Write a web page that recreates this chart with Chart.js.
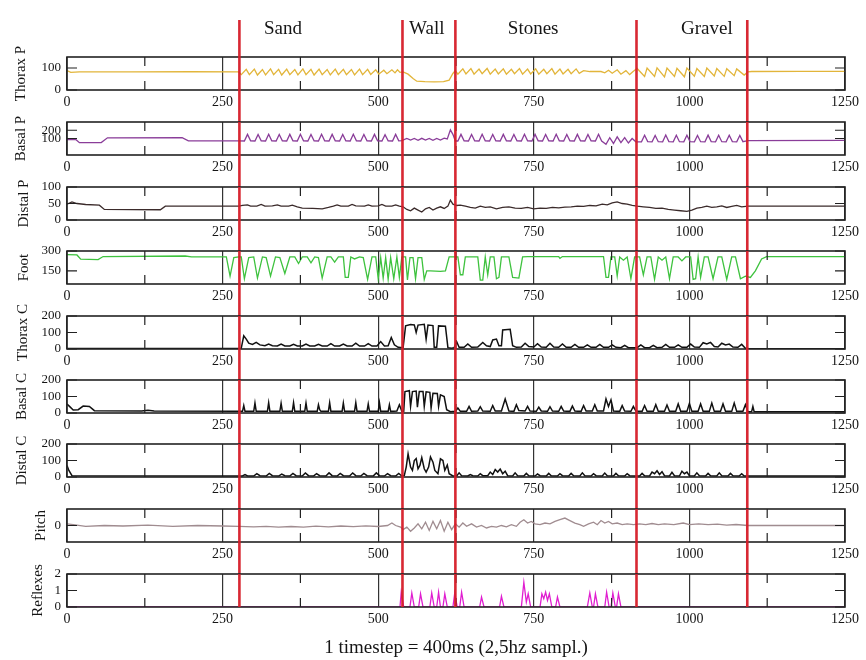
<!DOCTYPE html>
<html><head><meta charset="utf-8">
<script src="https://cdn.jsdelivr.net/npm/chart.js"></script>
<style>html,body{margin:0;padding:0;background:#fff;width:866px;height:660px;overflow:hidden;position:relative}</style>
</head><body>
<script>
// ---------- data (timestep, value) ----------
const xTicks = [0,250,500,750,1000,1250];
const minorX = [125,375,625,875,1125];
const regionNames = ['Sand','Wall','Stones','Gravel'];
const regionCenters = [347,578,749,1028];
const regionBounds = [277,539,624,915,1093];

const thoraxPTicks = [0,100];
const basalPTicks = [100,200];
const distalPTicks = [0,50,100];
const footTicks = [150,300];
const thoraxCTicks = [0,100,200];
const basalCTicks = [0,100,200];
const distalCTicks = [0,100,200];
const pitchTicks = [0];
const reflexTicks = [0,1,2];

const thoraxP = [[0,88],[6,80],[20,82],[100,82],[200,83],[276,82],
[280,70],[288,94],[293,70],[301,95],[306,68],[314,93],[319,69],[327,96],[332,70],[340,94],[345,68],[353,95],[358,70],[366,93],[371,69],[379,96],[384,70],[392,94],[397,68],[405,95],[410,70],[418,93],[423,69],[431,95],[436,70],[444,94],[449,70],[457,93],[462,69],[470,95],[475,70],[483,94],[488,71],[496,92],[501,72],[509,90],[514,74],[522,92],[527,78],[531,92],[535,80],[540,82],
[548,72],[556,52],[562,40],[575,38],[590,37],[605,38],[614,45],[620,75],[624,88],
[628,72],[636,96],[641,73],[649,97],[654,72],[662,95],[667,74],[675,98],[680,72],[688,95],[693,73],[701,96],[706,72],[714,94],[719,74],[727,97],[732,72],[740,95],[745,73],[753,96],[758,72],[766,94],[771,74],[779,97],[784,72],[792,95],[797,73],[805,94],[810,74],[818,96],[823,76],[830,88],[840,84],[858,84],[864,78],[870,90],[876,76],[884,92],[890,72],[898,88],[904,70],[910,85],
[916,98],[928,62],[932,100],[944,62],[948,101],[960,60],[964,100],[976,62],[980,99],[992,60],[996,100],[1008,63],[1012,98],[1024,62],[1028,100],[1040,64],[1044,98],[1056,62],[1060,97],[1072,65],[1076,96],[1088,68],[1094,82],
[1100,84],[1180,85],[1250,85]];

const basalP = [[0,88],[14,88],[20,50],[55,50],[65,108],[185,110],[195,72],[276,70],
[285,70],[290,150],[295,72],[302,70],[307,148],[312,72],[319,70],[324,152],[329,71],[336,70],[341,149],[346,72],[353,70],[358,150],[363,71],[370,70],[375,151],[380,72],[387,70],[392,148],[397,71],[404,70],[409,152],[414,72],[421,70],[426,150],[431,71],[438,70],[443,149],[448,72],[455,70],[460,151],[465,71],[472,70],[477,148],[482,72],[489,70],[494,150],[499,71],[506,70],[511,145],[516,72],[523,70],[528,150],[533,72],[538,74],
[546,100],[552,80],[558,100],[564,78],[570,102],[576,80],[582,100],[588,78],[594,100],[600,80],[606,105],[611,95],[616,205],[620,150],[624,70],
[628,70],[633,150],[638,72],[645,70],[650,148],[655,71],[662,70],[667,152],[672,72],[679,70],[684,149],[689,71],[696,70],[701,150],[706,72],[713,70],[718,148],[723,71],[730,70],[735,152],[740,72],[747,70],[752,150],[757,71],[764,70],[769,149],[774,72],[781,70],[786,151],[791,71],[798,70],[803,148],[808,72],[815,70],[820,150],[825,71],[832,70],[837,149],[842,72],[849,70],[854,152],[859,70],
[866,30],[872,110],[878,40],[884,120],[890,50],[896,110],[902,45],[908,100],[914,60],
[918,60],[923,60],[928,140],[933,62],[940,60],[945,138],[950,61],[957,60],[962,142],[967,62],[974,60],[979,139],[984,61],[991,60],[996,140],[1001,62],[1008,60],[1013,138],[1018,61],[1025,60],[1030,141],[1035,62],[1042,60],[1047,139],[1052,61],[1059,60],[1064,140],[1069,62],[1076,60],[1081,138],[1086,62],[1094,75],[1250,78]];

const distalP = [[0,48],[8,55],[16,50],[30,47],[52,45],[60,32],[150,31],[158,42],[276,42],
[282,44],[290,46],[295,42],[305,42],[312,47],[318,42],[330,43],[338,46],[344,42],[356,42],[362,45],[370,40],[378,36],[395,35],[410,34],[420,38],[428,42],[434,46],[440,42],[452,42],[458,47],[464,43],[478,42],[484,46],[490,42],[500,43],[506,47],[512,42],[522,42],[528,46],[534,42],
[540,40],[546,32],[552,28],[558,36],[564,30],[570,24],[576,34],[582,38],[588,30],[594,36],[600,40],[606,35],[612,42],[616,60],[620,48],[626,44],
[632,45],[640,42],[648,38],[656,36],[664,42],[672,38],[680,40],[690,34],[700,38],[710,40],[720,36],[730,35],[740,38],[750,34],[760,36],[770,35],[780,38],[790,37],[800,39],[810,40],[820,42],[830,41],[840,44],[850,43],[860,48],[868,46],[876,52],[884,55],[892,50],[900,48],[908,44],
[916,42],[926,40],[936,38],[946,35],[956,36],[966,32],[976,30],[986,28],[996,26],[1004,30],[1012,36],[1020,38],[1028,42],[1036,38],[1044,40],[1052,43],[1060,38],[1068,41],[1076,44],[1084,40],[1094,42],
[1110,42],[1250,42]];

const foot = [[0,272],[16,270],[22,238],[50,235],[58,258],[190,262],[200,255],[256,255],[262,110],[268,250],[276,255],
[280,255],[285,90],[292,250],[300,255],[306,95],[314,255],[320,250],[327,110],[335,255],[342,250],[350,130],[358,255],[366,255],[372,205],[378,255],[386,255],[392,210],[398,255],[404,250],[410,95],[418,255],[424,255],[430,215],[436,255],[444,255],[447,100],[452,100],[456,255],[462,240],[470,255],[476,250],[483,85],[490,255],[496,255],[500,90],[504,250],[508,95],[512,250],[516,85],[520,250],[525,90],[530,255],[534,100],[538,255],
[544,255],[547,80],[551,250],[556,250],[560,90],[564,250],[570,250],[574,85],[578,150],[584,150],[600,145],[608,150],[614,255],[620,255],
[628,255],[632,120],[636,120],[640,255],[660,255],[664,80],[668,80],[672,255],[676,120],[680,255],[686,255],[690,90],[694,100],[698,255],[710,255],[716,100],[726,95],[732,255],[740,258],[790,258],[792,245],[796,258],[862,258],[866,100],[870,100],[874,255],
[880,255],[884,110],[888,255],[894,230],[900,255],[906,90],[912,255],[920,255],[926,120],[932,255],[938,255],[944,85],[950,255],[956,230],[962,255],[968,90],[974,255],[982,255],[988,225],[994,255],[1002,255],[1006,85],[1010,90],[1014,255],[1018,100],[1024,255],[1030,255],[1038,90],[1046,255],[1052,255],[1060,85],[1068,255],[1074,255],[1082,90],[1090,110],[1098,100],[1106,150],[1116,240],[1124,258],[1250,258]];

const thoraxC = [[0,3],[276,3],[280,5],[284,80],[288,60],[292,35],[298,28],[304,40],[310,25],[318,20],[324,30],[330,20],[338,18],[344,30],[350,18],[358,18],[364,28],[370,18],[378,18],[384,30],[390,18],[398,18],[404,28],[410,18],[418,18],[424,32],[430,18],[438,18],[444,30],[450,18],[458,18],[464,35],[470,18],[478,18],[484,32],[490,18],[498,18],[504,45],[510,18],[516,20],[521,70],[526,25],[532,10],[540,8],
[544,140],[552,148],[558,146],[561,100],[564,145],[574,150],[577,60],[580,145],[588,142],[590,10],[594,10],[597,140],[608,138],[612,8],[618,5],
[622,8],[626,45],[630,10],[638,10],[644,30],[650,10],[660,12],[668,40],[674,20],[680,15],[684,55],[690,60],[694,20],[698,20],[700,115],[712,120],[716,20],[722,10],[730,12],[736,35],[742,15],[750,12],[756,32],[762,12],[770,10],[776,35],[782,12],[790,10],[796,30],[802,10],[810,10],[816,28],[822,10],[830,10],[836,25],[842,10],[850,10],[856,28],[862,10],[870,10],[876,25],[882,10],[890,8],[896,22],[902,8],[910,8],
[916,8],[922,25],[928,8],[936,8],[942,22],[948,8],[956,10],[962,28],[968,10],[976,10],[982,25],[988,10],[996,10],[1002,30],[1008,12],[1016,10],[1022,38],[1028,30],[1034,40],[1040,15],[1046,12],[1052,35],[1058,25],[1064,30],[1070,12],[1078,10],[1084,28],[1090,5],[1096,2],[1250,2]];

const basalC = [[0,55],[4,40],[10,18],[18,20],[26,42],[36,40],[44,14],[120,12],[130,16],[140,12],[276,10],
[282,10],[284,45],[286,10],[300,10],[302,60],[304,10],[322,10],[324,62],[326,10],[342,10],[344,58],[346,10],[362,10],[364,62],[366,10],[382,10],[384,60],[386,10],[402,10],[404,50],[406,20],[408,10],[420,10],[422,62],[424,10],[442,10],[444,60],[446,10],[462,10],[464,62],[466,10],[482,10],[484,55],[486,10],[500,10],[502,62],[504,10],[516,10],[518,50],[520,10],[530,12],[534,50],[538,10],
[541,10],[543,130],[550,135],[552,40],[555,130],[561,133],[563,35],[566,130],[572,130],[574,40],[577,128],[583,125],[585,30],[588,120],[595,118],[597,40],[600,110],[606,100],[610,20],[616,8],
[624,10],[628,30],[632,10],[642,10],[646,40],[650,10],[660,12],[664,38],[668,12],[680,10],[684,45],[688,12],[698,12],[704,85],[710,12],[718,10],[722,50],[726,15],[736,12],[740,40],[744,12],[754,10],[758,35],[762,12],[772,10],[776,38],[780,12],[790,10],[794,40],[798,12],[808,10],[812,42],[816,12],[826,10],[830,45],[834,12],[844,12],[848,50],[852,12],[862,12],[866,85],[870,40],[874,80],[878,12],[888,10],[892,45],[896,12],[906,10],[910,40],[914,12],
[924,10],[928,45],[932,10],[942,10],[946,50],[950,10],[960,10],[964,48],[968,10],[978,10],[982,55],[986,10],[996,10],[1000,58],[1004,10],[1014,10],[1018,55],[1022,10],[1032,10],[1036,60],[1040,10],[1050,10],[1054,55],[1058,10],[1068,10],[1072,60],[1076,10],[1086,10],[1090,50],[1094,8],[1100,8],[1102,40],[1104,8],[1250,8]];

const distalC = [[0,70],[3,40],[8,8],[276,6],
[282,6],[286,15],[290,6],[300,6],[305,20],[310,8],[320,6],[325,22],[330,8],[340,6],[345,18],[350,8],[358,6],[363,22],[368,8],[378,6],[383,24],[388,8],[396,6],[401,20],[406,8],[416,6],[421,25],[426,8],[434,6],[439,22],[444,8],[454,6],[459,24],[464,8],[472,6],[477,22],[482,8],[492,6],[497,25],[502,8],[510,6],[515,20],[520,8],[528,6],[533,22],[538,6],
[542,10],[545,60],[548,140],[552,60],[555,40],[558,100],[561,112],[564,50],[567,70],[570,118],[574,50],[577,30],[581,60],[584,122],[588,90],[591,40],[596,20],[600,110],[604,100],[607,40],[611,72],[614,20],[620,6],
[626,6],[630,25],[634,8],[644,6],[648,15],[652,8],[660,6],[664,20],[668,8],[676,8],[680,30],[684,15],[688,45],[692,30],[696,48],[700,20],[704,35],[708,8],[716,6],[720,25],[724,8],[734,6],[738,22],[742,8],[752,6],[756,18],[760,8],[770,6],[774,22],[778,8],[788,6],[792,20],[796,8],[806,6],[810,22],[814,8],[824,6],[828,25],[832,8],[842,6],[846,20],[850,8],[860,6],[864,24],[868,8],[878,6],[882,22],[886,8],[896,6],[900,20],[904,8],[912,6],
[920,6],[924,22],[928,8],[936,6],[940,30],[944,20],[948,38],[952,15],[956,32],[960,8],[968,6],[972,28],[976,8],[984,6],[988,35],[992,20],[996,30],[1000,8],[1008,6],[1012,25],[1016,8],[1026,6],[1030,22],[1034,8],[1044,6],[1048,25],[1052,8],[1062,6],[1066,22],[1070,8],[1080,6],[1084,20],[1088,6],[1250,6]];

const pitch = [[0,0.1],[10,0.05],[30,-0.05],[60,0],[90,-0.03],[130,0.02],[170,-0.05],[210,0],[250,-0.03],[276,-0.05],
[300,-0.08],[320,-0.05],[340,-0.1],[360,-0.06],[380,-0.1],[400,-0.04],[420,-0.08],[440,-0.03],[460,-0.07],[480,-0.02],[500,-0.06],[515,0],[522,0.15],[528,0],[536,-0.1],
[540,-0.25],[546,-0.1],[552,-0.35],[558,-0.15],[564,0.1],[570,-0.2],[576,0.2],[582,-0.3],[588,0.25],[594,-0.2],[600,0.3],[606,-0.35],[612,0.2],[618,-0.25],[624,0.1],
[630,-0.1],[636,0.15],[642,-0.05],[650,0.1],[658,-0.1],[666,0],[674,-0.15],[682,-0.05],[690,-0.1],[698,0],[706,-0.08],[714,0.05],[722,-0.05],[728,0.2],[734,0.35],[740,0.15],[746,0.25],[752,0.1],[760,0.05],[768,0.15],[776,0.1],[784,0.25],[792,0.35],[800,0.45],[808,0.3],[816,0.15],[824,0.05],[830,-0.05],[838,0.1],[846,0.2],[852,0.05],[858,0.3],[864,0.15],[870,0.25],[876,0.1],[884,0.15],[892,0.05],[900,0.1],[910,0.05],
[920,0.1],[930,0.05],[940,0.12],[950,0.05],[960,0.1],[975,0.05],[990,0.15],[1000,0.05],[1015,0.1],[1030,0.05],[1045,0.08],[1060,0.02],[1075,0.06],[1094,0],[1120,0],[1250,0]];

const reflexes = [[0,0],[535,0],[537,0.9],[541,0],[551,0],[554,0.85],[558,0],[565,0],[568,0.8],[572,0],[583,0],[586,0.85],[590,0],[594,0],[597,0.9],[600,0],[604,0],[607,0.8],[611,0],[620,0],[623,0.85],[627,0],[631,0],[634,0.9],[638,0],[663,0],[666,0.6],[670,0],[695,0],[698,0.65],[702,0],[730,0],[734,1.5],[738,0.3],[741,0.8],[745,0],[760,0],[763,0.8],[766,0.5],[769,0.9],[772,0.4],[775,0.8],[779,0],[785,0],[788,0.6],[792,0],[836,0],[840,0.85],[844,0],[846,0],[849,0.8],[853,0],[864,0],[867,0.9],[871,0],[874,0],[877,0.85],[881,0],[883,0],[886,0.8],[890,0],[905,0],[1250,0]];

// ---------- layout ----------
const W = 866, PH = 33, AXW = 67, RPAD = 21;
const panelTops = [57,122,187,251,316,380,444,509,574];
const SERIF = "'Liberation Serif','DejaVu Serif',serif";
const INK = '#151515';

const panels = [
  {title:'Thorax P', data:thoraxP, color:'#e2b53a', lw:1.3, min:0, max:150, ticks:thoraxPTicks, tx:21},
  {title:'Basal P', data:basalP, color:'#8a3d99', lw:1.3, min:-100, max:300, ticks:basalPTicks, tx:21},
  {title:'Distal P', data:distalP, color:'#3b2b2b', lw:1.3, min:0, max:100, ticks:distalPTicks, tx:24},
  {title:'Foot', data:foot, color:'#3ec23e', lw:1.3, min:50, max:300, ticks:footTicks, tx:24},
  {title:'Thorax C', data:thoraxC, color:'#111111', lw:1.5, min:0, max:200, ticks:thoraxCTicks, tx:23},
  {title:'Basal C', data:basalC, color:'#111111', lw:1.5, min:0, max:200, ticks:basalCTicks, tx:22},
  {title:'Distal C', data:distalC, color:'#111111', lw:1.5, min:0, max:200, ticks:distalCTicks, tx:22},
  {title:'Pitch', data:pitch, color:'#a08c90', lw:1.3, min:-1, max:1, ticks:pitchTicks, tx:41},
  {title:'Reflexes', data:reflexes, color:'#e01ed0', lw:1.3, min:0, max:2, ticks:reflexTicks, tx:38}
];

panels.forEach((p, i) => {
  const first = i === 0, last = i === panels.length - 1;
  const padTop = first ? panelTops[0] : 22;
  const xH = last ? 53 : 32;
  const h = padTop + PH + xH;
  const top = panelTops[i] - padTop;
  const gapBelow = last ? 0 : panelTops[i+1] - (panelTops[i] + PH);
  const cv = document.createElement('canvas');
  cv.width = W; cv.height = h;
  cv.style.cssText = `position:absolute;left:0;top:${top}px;width:${W}px;height:${h}px`;
  document.body.appendChild(cv);

  const deco = {
    id: 'deco' + i,
    afterDatasetsDraw(chart) {
      const {ctx, chartArea: a, scales: {x, y}} = chart;
      ctx.save();
      ctx.strokeStyle = '#222';
      ctx.lineWidth = 1.2;
      ctx.beginPath();
      p.ticks.forEach(v => {
        const py = y.getPixelForValue(v);
        ctx.moveTo(a.left, py); ctx.lineTo(a.left + 10, py);
        ctx.moveTo(a.right - 10, py); ctx.lineTo(a.right, py);
      });
      minorX.forEach(v => {
        const px = x.getPixelForValue(v);
        ctx.moveTo(px, a.top); ctx.lineTo(px, a.top + 9);
        ctx.moveTo(px, a.bottom - 9); ctx.lineTo(px, a.bottom);
      });
      ctx.stroke();
      ctx.lineWidth = 1.6;
      ctx.strokeRect(a.left, a.top, a.right - a.left, a.bottom - a.top);
      ctx.restore();
    },
    afterDraw(chart) {
      const {ctx, chartArea: a, scales: {x}} = chart;
      ctx.save();
      ctx.strokeStyle = 'rgba(214,28,40,0.95)';
      ctx.lineWidth = 2.6;
      const y0 = first ? 20 : a.top;
      const y1 = a.bottom + gapBelow;
      ctx.beginPath();
      regionBounds.forEach(v => {
        const px = x.getPixelForValue(v);
        ctx.moveTo(px, y0); ctx.lineTo(px, y1);
      });
      ctx.stroke();
      if (first) {
        ctx.fillStyle = INK;
        ctx.font = `19px ${SERIF}`;
        ctx.textAlign = 'center';
        ctx.textBaseline = 'middle';
        regionNames.forEach((n, k) => ctx.fillText(n, x.getPixelForValue(regionCenters[k]), 29));
      }
      ctx.restore();
    }
  };

  new Chart(cv, {
    type: 'line',
    data: { datasets: [{ data: p.data, borderColor: p.color, borderWidth: p.lw, pointRadius: 0, tension: 0, fill: false }] },
    options: {
      responsive: false, animation: false, events: [],
      layout: { padding: { top: padTop, right: RPAD, left: 0, bottom: 0 } },
      plugins: { legend: { display: false }, tooltip: { enabled: false } },
      scales: {
        x: {
          type: 'linear', min: 0, max: 1250,
          afterBuildTicks: s => { s.ticks = xTicks.map(v => ({ value: v })); },
          afterFit: s => { s.height = xH; },
          ticks: { callback: v => String(v), font: { family: SERIF, size: 14 }, color: INK, padding: 4, maxRotation: 0, autoSkip: false },
          grid: { color: '#333', lineWidth: 1.2, drawTicks: false },
          border: { display: false },
          title: last ? { display: true, text: '1 timestep = 400ms (2,5hz sampl.)', font: { family: SERIF, size: 19 }, color: INK, padding: { top: 0, bottom: 1 } } : { display: false }
        },
        y: {
          type: 'linear', min: p.min, max: p.max,
          afterBuildTicks: s => { s.ticks = p.ticks.map(v => ({ value: v })); },
          afterFit: s => { s.width = AXW; },
          ticks: { callback: v => String(v), font: { family: SERIF, size: 13 }, color: INK, padding: 6, autoSkip: false },
          grid: { display: false, drawTicks: false },
          border: { display: false },
          title: { display: true, text: p.title, font: { family: SERIF, size: 15 }, color: INK, padding: { top: p.tx - 9, bottom: 0 } }
        }
      }
    },
    plugins: [deco]
  });
});
</script>
</body></html>
